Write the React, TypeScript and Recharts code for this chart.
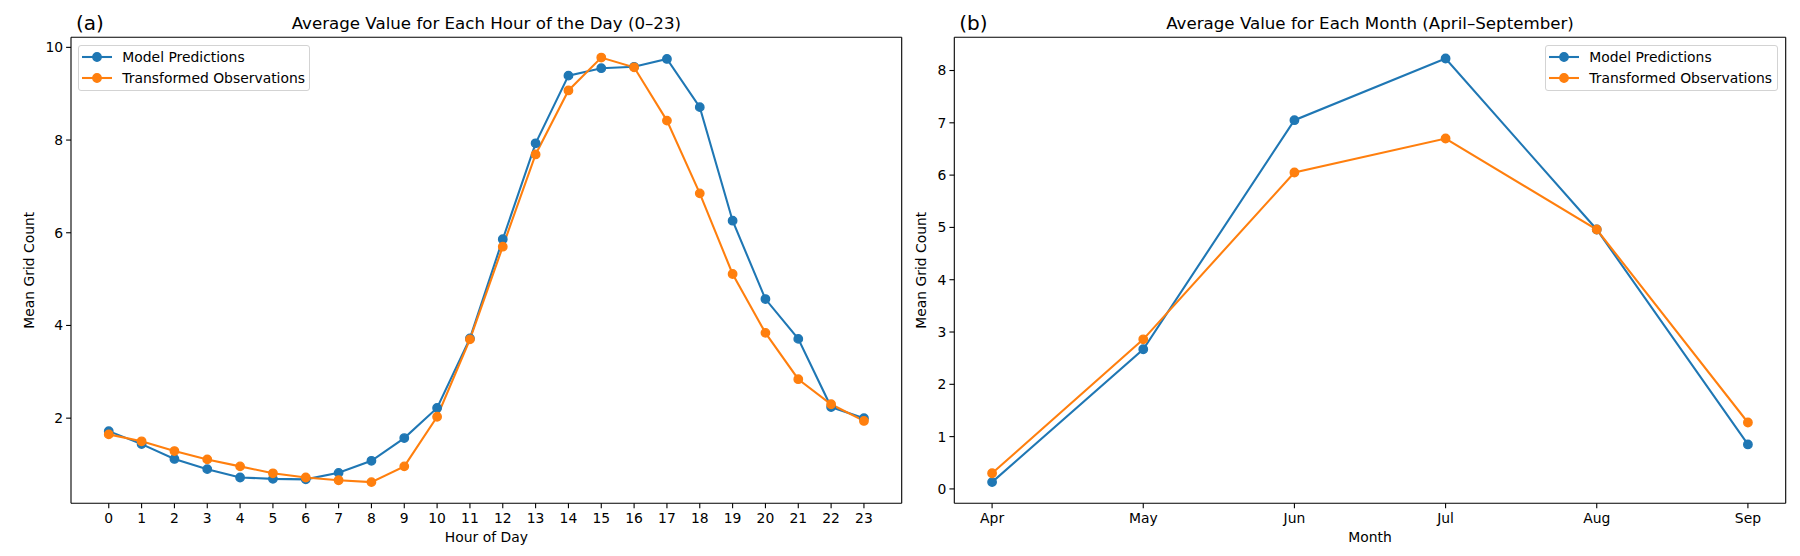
import React from 'react';
import { LineChart, Line, XAxis, YAxis, Legend, Label, ReferenceLine } from 'recharts';

const FONT = '"DejaVu Sans", sans-serif';
const BLUE = '#1f77b4';
const ORANGE = '#ff7f0e';
const CHART_H = 556;
const X_AXIS_H = 30;

// (a) hourly means
const hours = [0, 1, 2, 3, 4, 5, 6, 7, 8, 9, 10, 11, 12, 13, 14, 15, 16, 17, 18, 19, 20, 21, 22, 23];
const hourlyModel = [1.72, 1.44, 1.12, 0.9, 0.72, 0.69, 0.68, 0.82, 1.08, 1.57, 2.22, 3.72, 5.86, 7.93, 9.39, 9.55, 9.58, 9.75, 8.71, 6.26, 4.57, 3.71, 2.24, 2.0];
const hourlyObserved = [1.65, 1.5, 1.29, 1.11, 0.96, 0.81, 0.72, 0.66, 0.62, 0.96, 2.03, 3.7, 5.7, 7.69, 9.07, 9.78, 9.57, 8.42, 6.85, 5.11, 3.84, 2.84, 2.3, 1.94];
const hourlyYTicks = [2, 4, 6, 8, 10];

// (b) monthly means
const months = ['Apr', 'May', 'Jun', 'Jul', 'Aug', 'Sep'];
const monthlyModel = [0.13, 2.67, 7.05, 8.23, 4.96, 0.85];
const monthlyObserved = [0.3, 2.86, 6.05, 6.7, 4.96, 1.27];
const monthlyYTicks = [0, 1, 2, 3, 4, 5, 6, 7, 8];

const hourlyData = hours.map((h, i) => ({ x: h, model: hourlyModel[i], observed: hourlyObserved[i] }));
const monthlyData = months.map((m, i) => ({ x: i, model: monthlyModel[i], observed: monthlyObserved[i] }));

const axisStroke = { stroke: '#000', strokeWidth: 1.1 };
const tickStyle = { fill: '#000', fontSize: 13.9, fontFamily: FONT };

const makeLegend = (width: number) => (props: any) => (
  <div
    style={{
      width,
      boxSizing: 'border-box',
      border: '1px solid #d3d3d3',
      borderRadius: 3,
      background: 'rgba(255,255,255,0.8)',
      padding: '1px 0',
      fontFamily: FONT,
      fontSize: 13.9,
      color: '#000',
    }}
  >
    {(props.payload || []).map((e: any) => (
      <div key={e.value} style={{ display: 'flex', alignItems: 'center', height: 21 }}>
        <svg width={30} height={12} style={{ marginLeft: 3, marginRight: 10, flex: 'none' }}>
          <line x1={0} y1={6} x2={30} y2={6} stroke={e.color} strokeWidth={2.08} />
          <circle cx={15} cy={6} r={4.2} fill={e.color} stroke={e.color} strokeWidth={1.4} />
        </svg>
        <span style={{ whiteSpace: 'nowrap' }}>{e.value}</span>
      </div>
    ))}
  </div>
);

interface PanelProps {
  width: number;
  margin: { top: number; right: number; bottom: number; left: number };
  yAxisWidth: number;
  data: { x: number; model: number; observed: number }[];
  xDomain: [number, number];
  xTicks: number[];
  xFormatter?: (v: number) => string;
  yDomain: [number, number];
  yTicks: number[];
  title: string;
  tag: string;
  xLabel: string;
  yLabelX: number;
  legendLeft: number;
  legendWidth: number;
}

const Panel: React.FC<PanelProps> = (p) => {
  const plotLeft = p.margin.left + p.yAxisWidth;
  const plotRight = p.width - p.margin.right;
  const plotTop = p.margin.top;
  const plotBottom = CHART_H - p.margin.bottom - X_AXIS_H;
  const cx = (plotLeft + plotRight) / 2;
  const cy = (plotTop + plotBottom) / 2;

  return (
    <LineChart width={p.width} height={CHART_H} data={p.data} margin={p.margin}>
      <XAxis
        dataKey="x"
        type="number"
        domain={p.xDomain}
        ticks={p.xTicks}
        interval={0}
        tickFormatter={p.xFormatter}
        height={X_AXIS_H}
        tickSize={4.9}
        tickMargin={5}
        axisLine={axisStroke}
        tickLine={axisStroke}
        tick={tickStyle}
      >
        <Label
          content={() => (
            <g>
              <text x={cx} y={541.8} textAnchor="middle" fontFamily={FONT} fontSize={13.9} fill="#000">
                {p.xLabel}
              </text>
              <text x={cx} y={29.3} textAnchor="middle" fontFamily={FONT} fontSize={16.67} fill="#000">
                {p.title}
              </text>
              <text x={plotLeft + 5} y={30} textAnchor="start" fontFamily={FONT} fontSize={20} fill="#000">
                {p.tag}
              </text>
            </g>
          )}
        />
      </XAxis>
      <YAxis
        type="number"
        domain={p.yDomain}
        ticks={p.yTicks}
        interval={0}
        width={p.yAxisWidth}
        tickSize={4.9}
        tickMargin={3}
        axisLine={axisStroke}
        tickLine={axisStroke}
        tick={tickStyle}
      >
        <Label
          content={() => (
            <text
              x={p.yLabelX}
              y={cy}
              transform={`rotate(-90, ${p.yLabelX}, ${cy})`}
              textAnchor="middle"
              dominantBaseline="central"
              fontFamily={FONT}
              fontSize={13.9}
              fill="#000"
            >
              Mean Grid Count
            </text>
          )}
        />
      </YAxis>
      {/* top and right spines */}
      <ReferenceLine y={p.yDomain[1]} stroke="#000" strokeWidth={1.1} ifOverflow="visible" />
      <ReferenceLine x={p.xDomain[1]} stroke="#000" strokeWidth={1.1} ifOverflow="visible" />
      <Legend
        layout="vertical"
        align="center"
        verticalAlign="middle"
        content={makeLegend(p.legendWidth)}
        wrapperStyle={{ left: p.legendLeft, top: 44.5, width: p.legendWidth }}
      />
      <Line
        type="linear"
        dataKey="model"
        name="Model Predictions"
        stroke={BLUE}
        strokeWidth={2.08}
        dot={{ r: 4.2, fill: BLUE, stroke: BLUE, strokeWidth: 1.4 }}
        activeDot={false}
        isAnimationActive={false}
      />
      <Line
        type="linear"
        dataKey="observed"
        name="Transformed Observations"
        stroke={ORANGE}
        strokeWidth={2.08}
        dot={{ r: 4.2, fill: ORANGE, stroke: ORANGE, strokeWidth: 1.4 }}
        activeDot={false}
        isAnimationActive={false}
      />
    </LineChart>
  );
};

export default function App() {
  return (
    <div style={{ position: 'absolute', left: 0, top: 0, width: 1800, height: CHART_H, background: '#fff' }}>
      <div style={{ position: 'absolute', left: 0, top: 0 }}>
        <Panel
          width={910}
          margin={{ top: 37.3, right: 8.3, bottom: 22.7, left: 31 }}
          yAxisWidth={40}
          data={hourlyData}
          xDomain={[-1.15, 24.15]}
          xTicks={hours}
          yDomain={[0.163, 10.217]}
          yTicks={hourlyYTicks}
          title="Average Value for Each Hour of the Day (0–23)"
          tag="(a)"
          xLabel="Hour of Day"
          yLabelX={29.3}
          legendLeft={78.3}
          legendWidth={232}
        />
      </div>
      <div style={{ position: 'absolute', left: 910, top: 0 }}>
        <Panel
          width={890}
          margin={{ top: 37.3, right: 14.3, bottom: 22.7, left: 14.3 }}
          yAxisWidth={30}
          data={monthlyData}
          xDomain={[-0.25, 5.25]}
          xTicks={months.map((_, i) => i)}
          xFormatter={(v: number) => months[v] ?? ''}
          yDomain={[-0.275, 8.635]}
          yTicks={monthlyYTicks}
          title="Average Value for Each Month (April–September)"
          tag="(b)"
          xLabel="Month"
          yLabelX={11.3}
          legendLeft={635.3}
          legendWidth={233}
        />
      </div>
    </div>
  );
}
